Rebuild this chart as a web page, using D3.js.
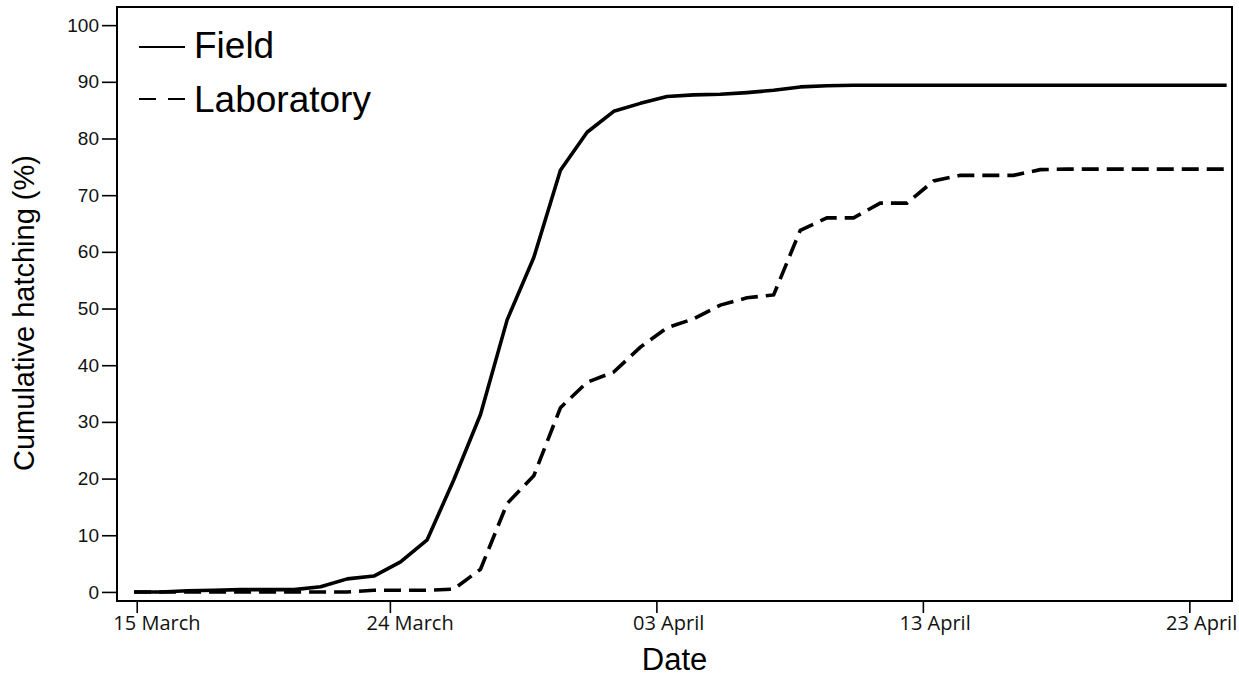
<!DOCTYPE html>
<html>
<head>
<meta charset="utf-8">
<script src="https://cdn.jsdelivr.net/npm/d3@7"></script>
<style>
  html, body { margin: 0; padding: 0; background: #fff; }
  svg { display: block; }
</style>
</head>
<body>
<svg id="chart" width="1239" height="679"></svg>
<script>
// ---- data ----
const dayIndex = d3.range(0, 42); // one observation per day, 15 March onward
const fieldValues = [0, 0, 0.2, 0.3, 0.4, 0.4, 0.4, 0.9, 2.3, 2.8,
  5.3, 9.2, 19.8, 31.3, 48, 59, 74.4, 81.1, 84.8, 86.2,
  87.4, 87.7, 87.8, 88.1, 88.5, 89.1, 89.3, 89.4, 89.4, 89.4,
  89.4, 89.4, 89.4, 89.4, 89.4, 89.4, 89.4, 89.4, 89.4, 89.4,
  89.4, 89.4];
const labValues = [0, 0, 0, 0, 0, 0, 0, 0, 0, 0.3,
  0.3, 0.3, 0.5, 4, 15.6, 20.5, 32.5, 37, 38.8, 43.2,
  46.6, 48.2, 50.6, 51.9, 52.4, 63.8, 66, 66, 68.6, 68.6,
  72.5, 73.5, 73.5, 73.5, 74.5, 74.6, 74.6, 74.6, 74.6, 74.6,
  74.6, 74.6];
const seriesNames = ["Field", "Laboratory"];
const xTickPositions = [0.1, 9.6, 19.6, 29.6, 39.6];
const xTickLabels = ["15 March", "24 March", "03 April", "13 April", "23 April"];
const yTickValues = [0, 10, 20, 30, 40, 50, 60, 70, 80, 90, 100];
const xTitle = "Date";
const yTitle = "Cumulative hatching (%)";

// ---- layout ----
const svg = d3.select("#chart");
const plot = { left: 117, right: 1232, top: 7, bottom: 601 };

const x = d3.scaleLinear().domain([-0.64, 41.2]).range([plot.left, plot.right]);
const y = d3.scaleLinear().domain([-1.6, 103.2]).range([plot.bottom, plot.top]);

// y axis
const yAxis = svg.append("g")
  .attr("transform", `translate(${plot.left},0)`)
  .call(d3.axisLeft(y).tickValues(yTickValues).tickSize(15).tickPadding(3).tickFormat(d3.format("d")));
yAxis.select(".domain").remove();
yAxis.selectAll(".tick line").attr("stroke", "#000").attr("stroke-width", 1.6);
yAxis.selectAll(".tick text")
  .attr("font-family", "'Liberation Sans', Arial, sans-serif")
  .attr("font-size", 19).attr("fill", "#111");

// x axis
const xAxis = svg.append("g")
  .attr("transform", `translate(0,${plot.bottom})`)
  .call(d3.axisBottom(x).tickValues(xTickPositions).tickSize(12).tickFormat((d, i) => xTickLabels[i]));
xAxis.select(".domain").remove();
xAxis.selectAll(".tick line").attr("stroke", "#000").attr("stroke-width", 1.6);
xAxis.selectAll(".tick text").each(function(d, i) {
  const t = d3.select(this);
  const parts = xTickLabels[i].split(" ");
  t.text(null)
    .attr("font-family", "'Open Sans', sans-serif")
    .attr("font-size", 20)
    .attr("fill", "#111")
    .attr("text-anchor", "start")
    .attr("y", 29).attr("dy", null);
  const num = t.append("tspan").text(parts[0]);
  t.append("tspan").text(" " + parts[1]);
  const w = num.node().getComputedTextLength();
  t.attr("x", -w - 1);
});

// frame
svg.append("rect")
  .attr("x", plot.left).attr("y", plot.top)
  .attr("width", plot.right - plot.left).attr("height", plot.bottom - plot.top)
  .attr("fill", "none").attr("stroke", "#000").attr("stroke-width", 2);

// lines
const line = d3.line().x((d, i) => x(dayIndex[i])).y(d => y(d));
svg.append("path").datum(labValues)
  .attr("d", line).attr("fill", "none").attr("stroke", "#000")
  .attr("stroke-width", 3.6).attr("stroke-dasharray", "17,8");
svg.append("path").datum(fieldValues)
  .attr("d", line).attr("fill", "none").attr("stroke", "#000")
  .attr("stroke-width", 3.6).attr("stroke-linejoin", "round");

// legend
const legend = svg.append("g");
const legendRows = [
  { name: seriesNames[0], ly: 47, ty: 58, dash: null },
  { name: seriesNames[1], ly: 99, ty: 112, dash: "17,12" }
];
legendRows.forEach(r => {
  legend.append("line")
    .attr("x1", 139).attr("x2", 185).attr("y1", r.ly).attr("y2", r.ly)
    .attr("stroke", "#000").attr("stroke-width", 2)
    .attr("stroke-dasharray", r.dash);
  legend.append("text")
    .attr("x", 194).attr("y", r.ty)
    .attr("font-family", "'Liberation Sans', Arial, sans-serif")
    .attr("font-size", 37).attr("fill", "#000")
    .text(r.name);
});

// titles
svg.append("text")
  .attr("x", (plot.left + plot.right) / 2).attr("y", 670)
  .attr("text-anchor", "middle")
  .attr("font-family", "'Liberation Sans', Arial, sans-serif")
  .attr("font-size", 31).attr("fill", "#000")
  .text(xTitle);
svg.append("text")
  .attr("transform", "translate(34,313) rotate(-90)")
  .attr("text-anchor", "middle")
  .attr("font-family", "'Liberation Sans', Arial, sans-serif")
  .attr("font-size", 29).attr("fill", "#000")
  .text(yTitle);
</script>
</body>
</html>
